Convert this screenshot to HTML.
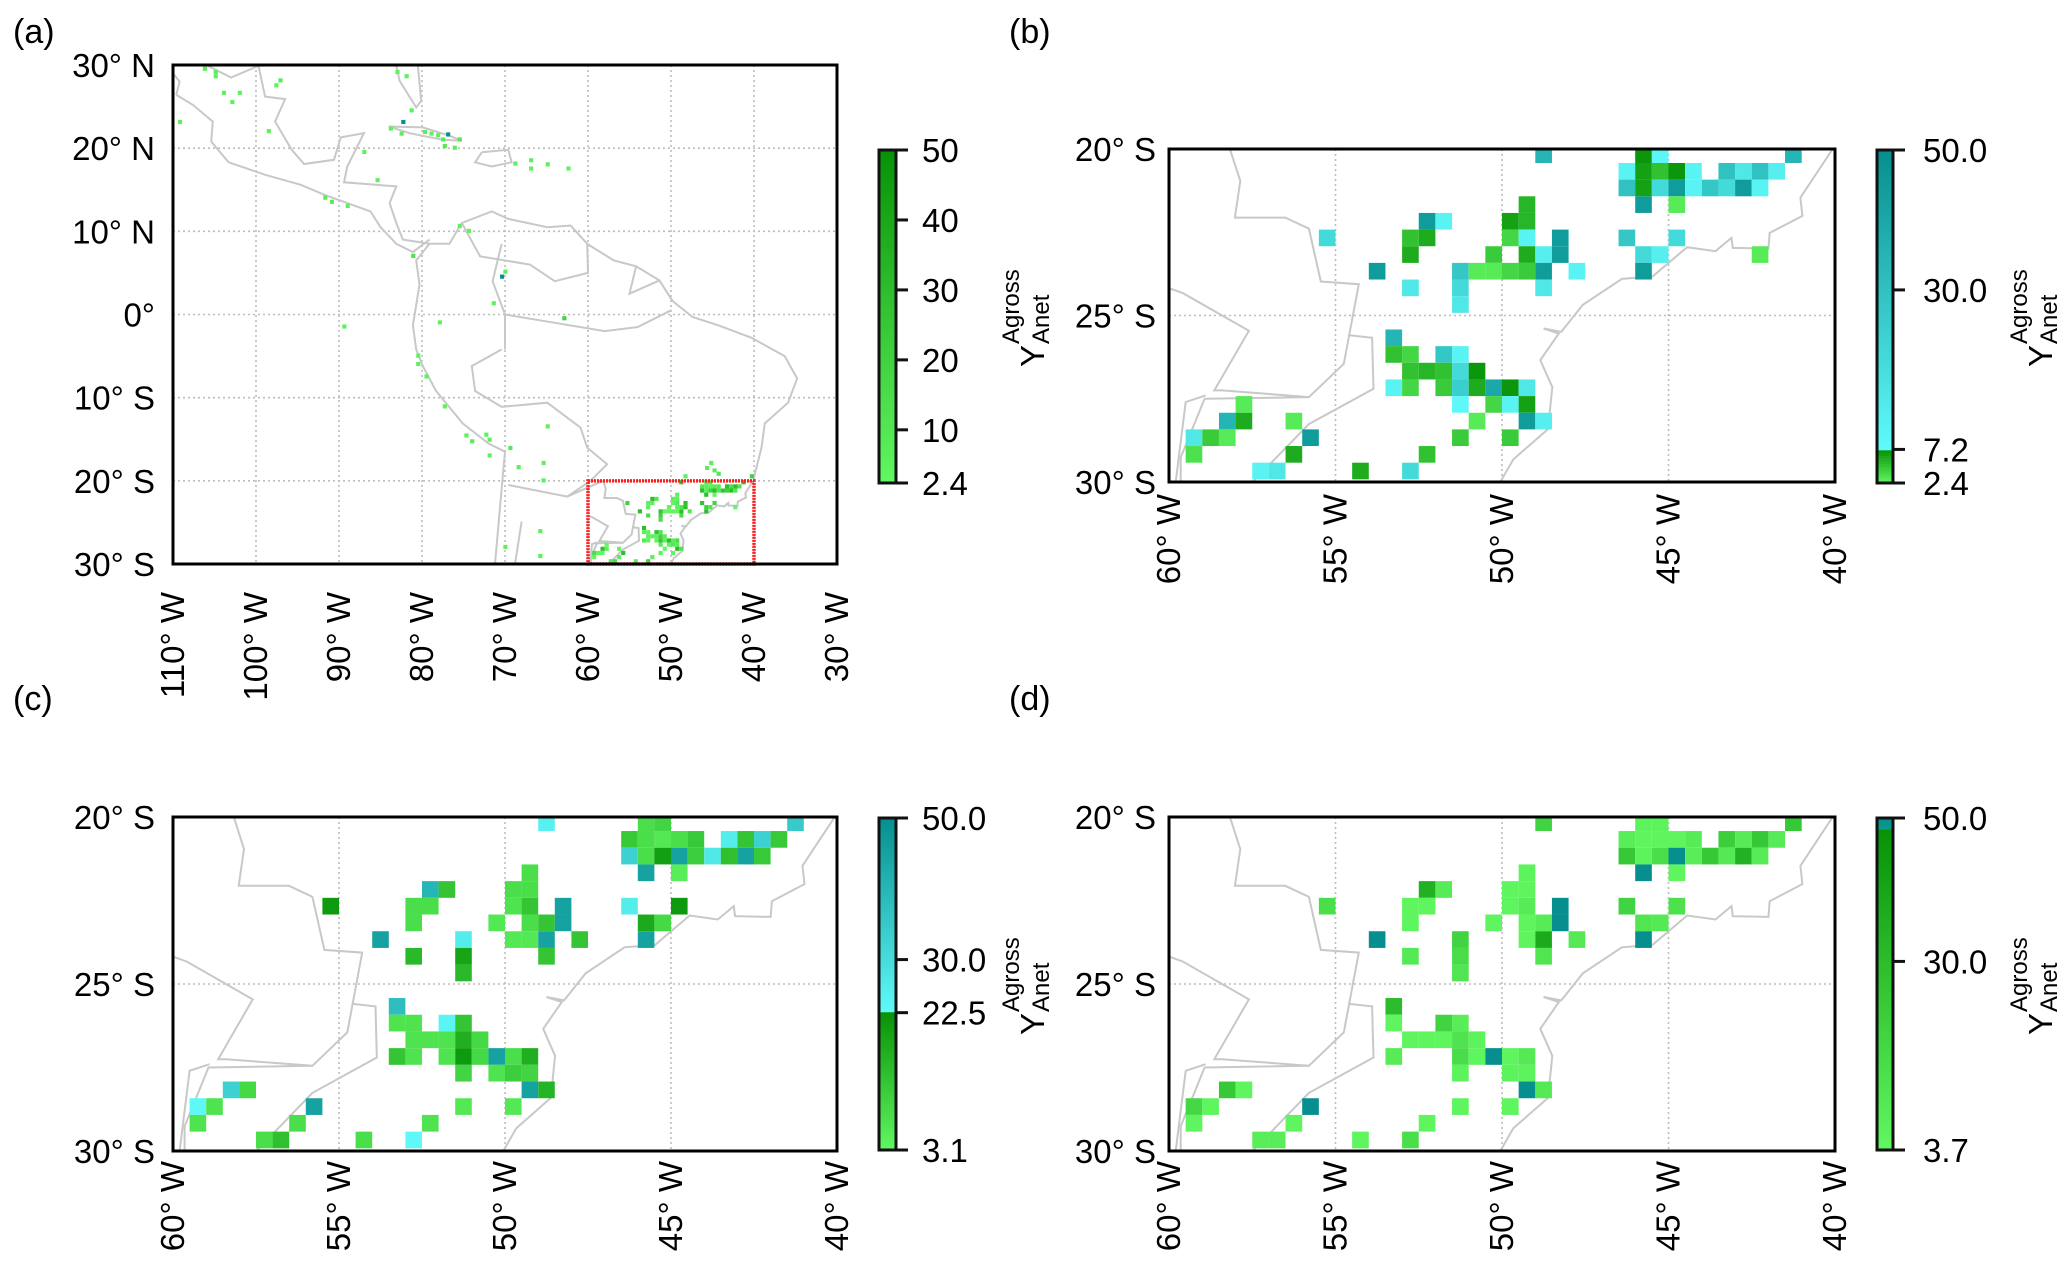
<!DOCTYPE html>
<html><head><meta charset="utf-8">
<style>
html,body{margin:0;padding:0;background:#fff;}
svg{display:block;font-family:"Liberation Sans",Arial,sans-serif;}
</style></head>
<body>
<svg id="fig" width="2067" height="1279" viewBox="0 0 2067 1279" xmlns="http://www.w3.org/2000/svg"></svg>
<script>
// ---------------- data ----------------
// Panel (b) cells: 0.5-degree grid indices (col from 60W, row from 20S) and values
const bCols=[22,28,29,37, 27,28,29,30,31,33,34,35,36, 27,28,29,30,31,32,33,34,35, 21,28,30, 15,16,20,21, 9,14,15,20,21,23,27,30, 14,19,21,22,23,28,29,35, 12,17,18,19,20,21,22,24,28, 14,17,22, 17, 13, 13,14,16,17, 14,15,16,17,18, 13,14,16,17,18,19,20,21, 4,17,19,20,21, 3,4,7,18,21,22, 1,2,3,8,17,20, 1,7,15, 5,6,11,14];
const bRows=[0,0,0,0, 1,1,1,1,1,1,1,1,1, 2,2,2,2,2,2,2,2,2, 3,3,3, 4,4,4,4, 5,5,5,5,5,5,5,5, 6,6,6,6,6,6,6,6, 7,7,7,7,7,7,7,7,7, 8,8,8, 9, 11, 12,12,12,12, 13,13,13,13,13, 14,14,14,14,14,14,14,14, 15,15,15,15,15, 16,16,16,16,16,16, 17,17,17,17,17,17, 18,18,18, 19,19,19,19];
const bVals=[35,7,9,35, 10,6.5,5,7,10,30,15,30,12, 30,6.5,20,45,10,28,20,45,10, 5.5,45,3, 45,10,6.5,5.5, 20,5,6,4,10,45,28,20, 6,4.5,6,12,45,20,12,3, 45,28,3,3,4,4.5,45,10,45, 15,20,15, 15, 35, 5,4,28,10, 5,5.5,5,20,7, 10,4,4.5,25,6,40,7,15, 3,8,4,10,6.5, 35,6,3,3,45,12, 15,4.5,3,45,4.5,4.5, 3.5,6,5, 10,15,6,20];

// Panel (c) cells
const cCols=[22,28,29,37, 27,28,29,30,31,33,34,35,36, 27,28,29,30,31,32,33,34,35, 21,28,30, 15,16,20,21, 9,14,15,20,21,23,27,30, 14,19,21,22,23,28,29, 12,17,20,21,22,24,28, 14,17,22, 17, 13, 13,14,16,17, 14,15,16,17,18, 13,14,16,17,18,19,20,21, 17,19,20,21, 3,4,21,22, 1,2,8,17,20, 1,7,15, 5,6,11,14];
const cRows=[0,0,0,0, 1,1,1,1,1,1,1,1,1, 2,2,2,2,2,2,2,2,2, 3,3,3, 4,4,4,4, 5,5,5,5,5,5,5,5, 6,6,6,6,6,6,6, 7,7,7,7,7,7,7, 8,8,8, 9, 11, 12,12,12,12, 13,13,13,13,13, 14,14,14,14,14,14,14,14, 15,15,15,15, 16,16,16,16, 17,17,17,17,17, 18,18,18, 19,19,19,19];
const cVals=[25,8,10,35, 12,8,6,8,12,26,13,33,12, 33,8,20,45,11,27,14,45,12, 8,45,5, 40,13,8,8, 21,8,8,7,13,45,26,21, 8,6,8,13,45,18,9, 45,26,6,6,45,13,45, 15,19,13, 15, 38, 7,7,24,13, 7,7,7,17,9, 13,7,7,21,9,45,8,17, 10,7,11,10, 33,9,45,16, 23,7,45,6,6, 7,8,7, 8,14,8,23];

// Panel (d) cells
const dCols=[22,28,29,37, 27,28,29,30,31,33,34,35,36, 27,28,29,30,31,32,33,34,35, 21,28,30, 15,16,20,21, 9,14,15,20,21,23,27,30, 14,19,21,22,23,28,29, 12,17,21,22,24,28, 14,17,22, 17, 13, 13,16,17, 14,15,16,17,18, 13,17,18,19,20,21, 17,20,21, 3,4,21,22, 1,2,8,17,20, 1,7,15, 5,6,11,14];
const dRows=[0,0,0,0, 1,1,1,1,1,1,1,1,1, 2,2,2,2,2,2,2,2,2, 3,3,3, 4,4,4,4, 5,5,5,5,5,5,5,5, 6,6,6,6,6,6,6, 7,7,7,7,7,7, 8,8,8, 9, 11, 12,12,12, 13,13,13,13,13, 14,14,14,14,14,14, 15,15,15, 16,16,16,16, 17,17,17,17,17, 18,18,18, 19,19,19,19];
const dVals=[20,6,6,25, 8,5,5,5,9,22,9,25,9, 25,6,15,50,8,25,10,35,9, 6,50,5, 35,9,5,5, 15,5,5,5,9,50,20,14, 5,5,5,9,50,12,10, 50,20,5,38,10,50, 10,16,12, 12, 30, 5,20,8, 5,5,5,13,6, 9,16,5,50,5,10, 6,6,6, 25,5,50,10, 18,5,50,5,5, 5,5,5, 8,8,5,15];

// Panel (a) scattered cells outside the zoom box (lon, lat, value)
const aLons=[-105.1,-105.1,-104.1,-102.2,-103.1,-109.4,-98.7,-97.3,-97.8,-106.4,-82.1,-83.2,-81.5,-82.5,-84.0,-82.7,-79.9,-79.1,-78.3,-77.7,-77.1,-75.7,-77.5,-76.3,-87.2,-69.0,-67.1,-67.1,-65.1,-62.6,-85.6,-91.9,-91.1,-89.2,-81.3,-75.7,-74.6,-70.6,-70.2,-71.6,-63.1,-78.1,-89.6,-80.7,-80.7,-79.7,-77.5,-74.9,-74.2,-72.5,-72.1,-72.1,-69.6,-65.1,-65.6,-68.6,-65.6,-66.0,-70.2,-66.0,-45.4,-45.0,-48.5,-40.5,-44.5,-45.9];
const aLats=[29.4,28.9,26.9,26.9,25.8,23.4,22.3,28.4,27.8,29.8,28.9,29.4,24.8,23.4,22.6,22.0,22.2,22.0,21.8,21.3,21.9,21.3,20.5,20.3,19.8,18.4,18.8,17.8,18.3,17.8,16.4,14.3,13.8,13.3,7.3,10.9,10.3,4.8,5.4,1.6,-0.2,-0.7,-1.2,-4.7,-5.7,-7.2,-10.8,-14.3,-15.0,-14.2,-14.8,-16.7,-15.8,-13.2,-17.6,-18.1,-19.7,-25.8,-27.7,-28.8,-17.6,-18.5,-19.2,-19.2,-18.9,-18.2];
const aVals=[6,5,5,5,5,5,5,8,5,6,5,5,5,60,5,6,6,5,6,8,60,10,9,6,5,5,5,5,5,5,5,7,8,5,12,5,5,60,5,5,20,5,5,5,5,5,5,5,8,5,6,5,9,5,5,5,5,5,5,5,6,8,5,20,10,7];

// Colourbar ticks
const aTicks=[2.4,10,20,30,40,50], aTickLabels=["2.4","10","20","30","40","50"];
const bTicks=[2.4,7.2,30,50], bTickLabels=["2.4","7.2","30.0","50.0"];
const cTicks=[3.1,22.5,30,50], cTickLabels=["3.1","22.5","30.0","50.0"];
const dTicks=[3.7,30,50], dTickLabels=["3.7","30.0","50.0"];

// Coastline / border polylines (lon,lat pairs)
const zoomLines=[
 [[-40.07,-20],[-41.04,-21.46],[-40.98,-22.01],[-41.96,-22.52],[-42.0,-22.99],[-43.07,-22.97],[-43.11,-22.67],[-43.59,-23.07],[-44.44,-22.95],[-45.48,-23.83],[-46.4,-23.9],[-47.57,-24.68],[-48.22,-25.49],[-48.75,-25.39],[-48.29,-25.54],[-48.85,-26.34],[-48.49,-27.15],[-48.62,-28.41],[-49.66,-29.32],[-50.05,-30]],
 [[-58.17,-20],[-57.86,-20.96],[-58.02,-22.06],[-56.51,-22.06],[-55.8,-22.39],[-55.44,-23.98],[-54.3,-24.06],[-54.75,-26.45],[-55.8,-27.45],[-58.93,-27.5],[-59.65,-29.26],[-59.65,-30]],
 [[-60,-24.18],[-59.58,-24.33],[-57.6,-25.46],[-58.64,-27.25],[-58.41,-27.25],[-55.8,-27.45]],
 [[-54.62,-25.59],[-53.9,-25.67],[-53.86,-27.2],[-55.8,-28.26],[-57.49,-30]],
 [[-58.9,-27.4],[-59.5,-27.6],[-59.8,-30]]
];
const worldLines=[
 [[-109.6,26.4],[-107.6,25.2],[-105.2,23.2],[-105.4,20.8],[-103.3,18.3],[-98.9,16.8],[-94.6,15.6],[-91.8,14.4],[-89.0,13.4],[-86.2,12.4],[-85.0,10.5],[-83.1,8.5],[-81.1,7.5],[-79.1,9.0]],
 [[-110,29.0],[-109.2,28.0],[-109.6,26.4]],
 [[-99.7,29.9],[-98.9,26.2],[-96.5,25.9],[-97.7,23.2],[-95.7,19.8],[-94.2,18.1],[-90.6,18.6],[-89.8,21.3],[-87.0,21.8],[-89.0,17.8],[-89.4,15.9],[-83.1,15.4],[-83.9,13.4],[-83.1,11.0],[-82.3,9.0],[-79.1,8.5],[-76.7,8.5],[-75.2,11.0],[-71.6,12.4],[-69.6,11.5],[-64.9,10.5],[-62.1,10.7],[-60.1,8.5],[-56.9,6.5],[-54.2,5.8],[-51.4,4.1],[-49.8,1.6],[-47.4,-0.3],[-44.3,-1.3],[-40.3,-2.8],[-36.3,-5.0],[-34.8,-7.7],[-35.9,-10.6],[-38.7,-13.1],[-39.1,-16.0],[-39.9,-19.2],[-40.07,-20]],
 [[-79.1,8.5],[-80.7,6.5],[-80.3,3.6],[-81.1,-1.3],[-80.7,-4.2],[-79.9,-6.2],[-78.3,-9.2],[-75.1,-13.1],[-72.0,-15.5],[-70.0,-16.5],[-70.4,-20.9],[-71.2,-30]],
 [[-83.1,29.9],[-82.7,28.1],[-80.7,24.9],[-80.1,25.7],[-80.5,29.9]],
 [[-84.0,22.6],[-79.9,22.5],[-76.7,21.5],[-75.2,20.9],[-77.5,21.0],[-81.5,21.8],[-84.0,22.6]],
 [[-72.8,19.5],[-69.6,19.8],[-69.2,18.3],[-71.6,17.8],[-73.6,18.3],[-72.8,19.5]],
 [[-70.4,-4.2],[-74,-6.2],[-73.6,-9.2],[-70.4,-11.1],[-64.9,-10.6],[-60.9,-13.6],[-60.1,-16],[-57.7,-18],[-59.7,-20],[-62.5,-21.9]],
 [[-70.4,8.5],[-71.5,4],[-70,0],[-70.0,-4.2]],
 [[-69.6,-20.5],[-62.5,-21.9],[-58.17,-20]],
 [[-68,-24.9],[-68.8,-30]],
 [[-75.2,11.0],[-73,7],[-67,6],[-64,4],[-60,5],[-60.1,8.5]],
 [[-54.2,5.8],[-55,2.5],[-51.4,4.1]],
 [[-70,0],[-64,-1],[-58,-2],[-54,-1.5],[-50,0.5]],
 [[-97,30],[-99.7,29.9]],[[-106,30],[-103,28.5],[-99.7,29.9]]
];

// ---------------- helpers ----------------
const NS='http://www.w3.org/2000/svg';
const svg=document.getElementById('fig');
function el(tag,attrs,parent){const e=document.createElementNS(NS,tag);for(const k in attrs)e.setAttribute(k,attrs[k]);(parent||svg).appendChild(e);return e;}
function hex(c){return [parseInt(c.slice(1,3),16),parseInt(c.slice(3,5),16),parseInt(c.slice(5,7),16)];}
function mix(a,b,t){const A=hex(a),B=hex(b);return 'rgb('+A.map((v,i)=>Math.round(v+(B[i]-v)*t)).join(',')+')';}
function makeCmap(segs,over){return v=>{if(v>segs[segs.length-1][1])return over;for(const s of segs){if(v<=s[1]){const t=Math.max(0,Math.min(1,(v-s[0])/(s[1]-s[0])));return mix(s[2],s[3],t);}}return over;};}
const LG='#62f862',DG='#079207',CY='#60fafa',TL='#078f8f';
const cmapA=makeCmap([[2.4,50,LG,DG]],TL);
const cmapB=makeCmap([[2.4,7.2,LG,DG],[7.2,50,CY,TL]],TL);
const cmapC=makeCmap([[3.1,22.5,LG,DG],[22.5,50,CY,TL]],TL);
const cmapD=makeCmap([[3.7,48.5,LG,DG],[48.5,50,'#0b9a8a',TL]],TL);

function panel(p){
  const g=el('g',{});
  
  
  const sx=lon=>p.x0+(lon-p.lon0)/(p.lon1-p.lon0)*(p.x1-p.x0);
  const sy=lat=>p.y0+(p.lat0-lat)/(p.lat0-p.lat1)*(p.y1-p.y0);
  const cid='clip-'+p.id;
  const cp=el('clipPath',{id:cid},g);el('rect',{x:p.x0,y:p.y0,width:p.x1-p.x0,height:p.y1-p.y0},cp);
  const inner=el('g',{'clip-path':'url(#'+cid+')'},g);
  // grid
  p.gridLon.forEach(l=>{const gl=el('line',{x1:sx(l),x2:sx(l),y1:p.y0,y2:p.y1,stroke:'#bdbdbd','stroke-width':1.6,'stroke-dasharray':'2 3'},inner);
    });
  p.gridLat.forEach(l=>{const gl=el('line',{x1:p.x0,x2:p.x1,y1:sy(l),y2:sy(l),stroke:'#bdbdbd','stroke-width':1.6,'stroke-dasharray':'2 3'},inner);
    });
  // lines
  p.lines.forEach(L=>{const pl=el('polyline',{points:L.map(q=>sx(q[0]).toFixed(1)+','+sy(q[1]).toFixed(1)).join(' '),fill:'none',stroke:'#c8c8c8','stroke-width':2},inner);
    });
  // cells
  const cw=Math.abs(sx(0.5)-sx(0)), ch=Math.abs(sy(0)-sy(0.5));
  p.cells.forEach(c=>{const r=el('rect',{x:sx(c.lon).toFixed(2),y:sy(c.lat).toFixed(2),width:cw.toFixed(2),height:ch.toFixed(2),fill:p.cmap(c.v)},inner);
    });
  if(p.box){const b=el('rect',{x:sx(p.box[0]),y:sy(p.box[2]),width:sx(p.box[1])-sx(p.box[0]),height:sy(p.box[3])-sy(p.box[2]),fill:'none',stroke:'#ff2020','stroke-width':3.5,'stroke-dasharray':'2 1'},g);
    }
  const fr=el('rect',{x:p.x0,y:p.y0,width:p.x1-p.x0,height:p.y1-p.y0,fill:'none',stroke:'#000','stroke-width':3},g);
  
  // y tick labels
  p.yTicks.forEach((t,i)=>{const tx=el('text',{x:p.ylx,y:sy(t)+12,'text-anchor':'end','font-size':33},g);tx.textContent=p.yLabels[i];
    });
  // x tick labels (rotated)
  p.xTicks.forEach((t,i)=>{const X=sx(t)+11;const tx=el('text',{transform:'translate('+X+','+p.xly+') rotate(-90)','text-anchor':'end','font-size':33},g);tx.textContent=p.xLabels[i];
    });
  // panel letter
  const lt=el('text',{x:p.letX,y:p.letY,'font-size':34},g);lt.textContent=p.letter;
  
  // colourbar
  const cb=el('g',{},g);
  const vmin=p.ticks[0],vmax=p.ticks[p.ticks.length-1],N=120,H=p.cby1-p.cby0;
  const cy=v=>p.cby1-(v-vmin)/(vmax-vmin)*H;
  for(let k=0;k<N;k++){const v=vmin+(k+0.5)/N*(vmax-vmin);el('rect',{x:p.cbx0,y:(p.cby1-(k+1)/N*H).toFixed(2),width:p.cbx1-p.cbx0,height:(H/N+0.6).toFixed(2),fill:p.cmap(Math.min(v,vmax-0.01))},cb);}
  el('rect',{x:p.cbx0,y:p.cby0,width:p.cbx1-p.cbx0,height:H,fill:'none',stroke:'#111','stroke-width':3},cb);
  p.ticks.forEach((t,i)=>{const Y=cy(t);el('line',{x1:p.cbx1,x2:p.cbx1+12,y1:Y,y2:Y,stroke:'#111','stroke-width':3},cb);
    const tx=el('text',{x:p.cblx,y:Y+12,'font-size':33},cb);tx.textContent=p.tickLabels[i];
    });
  const tt=el('g',{transform:'translate('+p.ttx+',317) rotate(-90)'},cb);
  
  const ty=(p.tty||317)-317;
  tt.setAttribute('transform','translate('+p.ttx+','+(317+ty)+') rotate(-90)');
  const t1=el('text',{x:-50,y:16,'font-size':33},tt);t1.textContent='Y';
  const t2=el('text',{x:-27,y:-9,'font-size':24},tt);t2.textContent='Agross';
  const t3=el('text',{x:-27,y:21,'font-size':24},tt);t3.textContent='Anet';
}

function cellsFrom(cols,rows,vals){return cols.map((c,i)=>({lon:-60+0.5*c,lat:-19.92-0.5*rows[i],v:vals[i]}));}

const zoomX=[-60,-55,-50,-45,-40], zoomXL=["60° W","55° W","50° W","45° W","40° W"];
const zoomY=[-20,-25,-30], zoomYL=["20° S","25° S","30° S"];

const aCells=cellsFrom(bCols,bRows,bVals).map(c=>({lon:c.lon,lat:c.lat,v:Math.min(c.v,30)}))
  .concat(aLons.map((l,i)=>({lon:l,lat:aLats[i],v:aVals[i]})));

panel({id:'a',name:'panel-a-overview-map',letter:'(a)',letX:13,letY:43,x0:173,x1:837,y0:65,y1:564,lon0:-110,lon1:-30,lat0:30,lat1:-30,
  gridLon:[-100,-90,-80,-70,-60,-50,-40],gridLat:[20,10,0,-10,-20],lines:worldLines.concat(zoomLines),cells:aCells,cmap:cmapA,box:[-60,-40,-20,-30],
  yTicks:[30,20,10,0,-10,-20,-30],yLabels:["30° N","20° N","10° N","0°","10° S","20° S","30° S"],ylx:155,
  xTicks:[-110,-100,-90,-80,-70,-60,-50,-40,-30],xLabels:["110° W","100° W","90° W","80° W","70° W","60° W","50° W","40° W","30° W"],xly:592,
  cbx0:879,cbx1:896,cby0:150,cby1:483,cblx:922,ticks:aTicks,tickLabels:aTickLabels,ttx:1028});
panel({id:'b',name:'panel-b-zoom-map',letter:'(b)',letX:1009,letY:43,x0:1169,x1:1835,y0:149,y1:482,lon0:-60,lon1:-40,lat0:-20,lat1:-30,
  gridLon:[-55,-50,-45],gridLat:[-25],lines:zoomLines,cells:cellsFrom(bCols,bRows,bVals),cmap:cmapB,
  yTicks:zoomY,yLabels:zoomYL,ylx:1156,xTicks:zoomX,xLabels:zoomXL,xly:494,
  cbx0:1877,cbx1:1893,cby0:150,cby1:483,cblx:1923,ticks:bTicks,tickLabels:bTickLabels,ttx:2036});
panel({id:'c',name:'panel-c-zoom-map',letter:'(c)',letX:13,letY:710,x0:173,x1:837,y0:817,y1:1151,lon0:-60,lon1:-40,lat0:-20,lat1:-30,
  gridLon:[-55,-50,-45],gridLat:[-25],lines:zoomLines,cells:cellsFrom(cCols,cRows,cVals),cmap:cmapC,
  yTicks:zoomY,yLabels:zoomYL,ylx:155,xTicks:zoomX,xLabels:zoomXL,xly:1161,
  cbx0:879,cbx1:896,cby0:818,cby1:1150,cblx:922,ticks:cTicks,tickLabels:cTickLabels,ttx:1028,tty:985});
panel({id:'d',name:'panel-d-zoom-map',letter:'(d)',letX:1009,letY:710,x0:1169,x1:1835,y0:817,y1:1151,lon0:-60,lon1:-40,lat0:-20,lat1:-30,
  gridLon:[-55,-50,-45],gridLat:[-25],lines:zoomLines,cells:cellsFrom(dCols,dRows,dVals),cmap:cmapD,
  yTicks:zoomY,yLabels:zoomYL,ylx:1156,xTicks:zoomX,xLabels:zoomXL,xly:1161,
  cbx0:1877,cbx1:1893,cby0:818,cby1:1150,cblx:1923,ticks:dTicks,tickLabels:dTickLabels,ttx:2036,tty:985});
</script>
</body></html>
